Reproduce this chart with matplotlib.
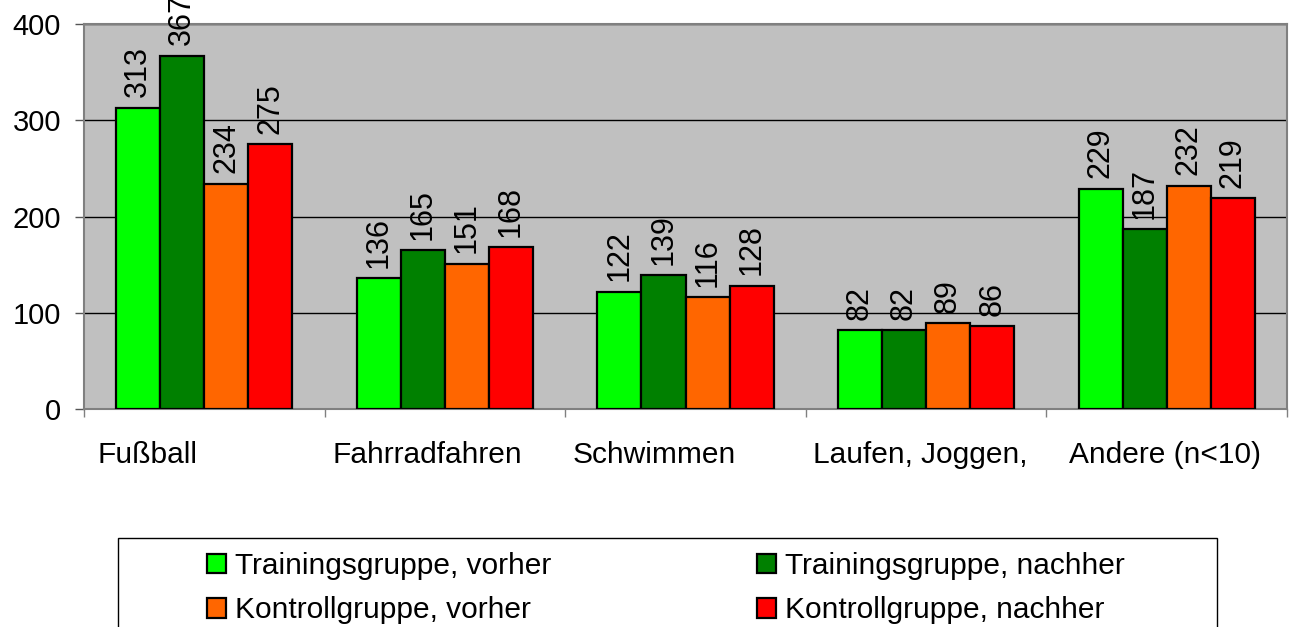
import matplotlib.pyplot as plt
import numpy as np
from matplotlib.patches import Rectangle
from matplotlib.transforms import blended_transform_factory

categories = ["Fußball", "Fahrradfahren", "Schwimmen", "Laufen, Joggen,", "Andere (n<10)"]
series_labels = [
    "Trainingsgruppe, vorher",
    "Trainingsgruppe, nachher",
    "Kontrollgruppe, vorher",
    "Kontrollgruppe, nachher",
]
tg_vorher = [313, 136, 122, 82, 229]
tg_nachher = [367, 165, 139, 82, 187]
kg_vorher = [234, 151, 116, 89, 232]
kg_nachher = [275, 168, 128, 86, 219]
colors = ["#00FF00", "#008000", "#FF6600", "#FF0000"]

plt.rcParams["font.family"] = ["Liberation Sans", "DejaVu Sans"]
FS = 21.5        # category labels, legend
FS_TICK = 21     # y tick labels
FS_VALUE = 22    # bar values

fig = plt.figure(figsize=(12.9, 6.27), dpi=100)
ax = fig.add_axes([84 / 1290, 1 - 409 / 627, 1203 / 1290, 385 / 627])
ax.set_facecolor("#C0C0C0")

x = np.arange(len(categories))
width = 0.183
all_series = [tg_vorher, tg_nachher, kg_vorher, kg_nachher]
bars = []
for k, (vals, color, label) in enumerate(zip(all_series, colors, series_labels)):
    offs = (k - 1.5) * width
    b = ax.bar(x + offs, vals, width, color=color, edgecolor="black",
               linewidth=1.6, label=label, zorder=3)
    bars.append(b)
    for xi, v in zip(x + offs, vals):
        ax.annotate(f"{v}", (xi, v), xytext=(0, 7.5), textcoords="offset points",
                    rotation=90, ha="center", va="bottom", fontsize=FS_VALUE,
                    annotation_clip=False, clip_on=False, zorder=4)

ax.set_xlim(-0.5, len(categories) - 0.5)
ax.set_ylim(0, 400)
ax.set_yticks([0, 100, 200, 300, 400])
ax.yaxis.grid(True, color="black", linewidth=1.0, zorder=1)
ax.set_axisbelow(True)
ax.tick_params(axis="y", labelsize=FS_TICK, length=6.5, width=1, color="#555555", pad=10)
ax.set_xticks(np.arange(len(categories) + 1) - 0.5)
ax.set_xticklabels([])
ax.tick_params(axis="x", length=6, width=1, color="#808080")
for side in ["left", "right", "top", "bottom"]:
    ax.spines[side].set_color("#808080")
    ax.spines[side].set_linewidth(1.5)

# category labels, left-aligned like the original export
label_shift = [0.058, 0.033, 0.03, 0.03, 0.096]
trans = blended_transform_factory(ax.transData, ax.transAxes)
for i, (cat, s) in enumerate(zip(categories, label_shift)):
    ax.text(i - 0.5 + s, -0.14, cat, transform=trans, ha="left", va="baseline",
            fontsize=FS)

# legend box
fig.patches.append(Rectangle((118 / 1290, -0.05), 1099 / 1290, 1 - 538 / 627 + 0.05,
                             transform=fig.transFigure, fill=False,
                             edgecolor="black", linewidth=1.0))
order = [0, 2, 1, 3]
fig.legend([bars[i] for i in order], [series_labels[i] for i in order], ncol=2,
           loc="upper left", bbox_to_anchor=(204 / 1290, 1 - 549 / 627),
           frameon=False, fontsize=FS, handlelength=0.64, handleheight=0.64,
           handletextpad=0.3, columnspacing=6.9, labelspacing=0.55,
           borderaxespad=0, borderpad=0.1)

fig.savefig("out.png", dpi=100)
